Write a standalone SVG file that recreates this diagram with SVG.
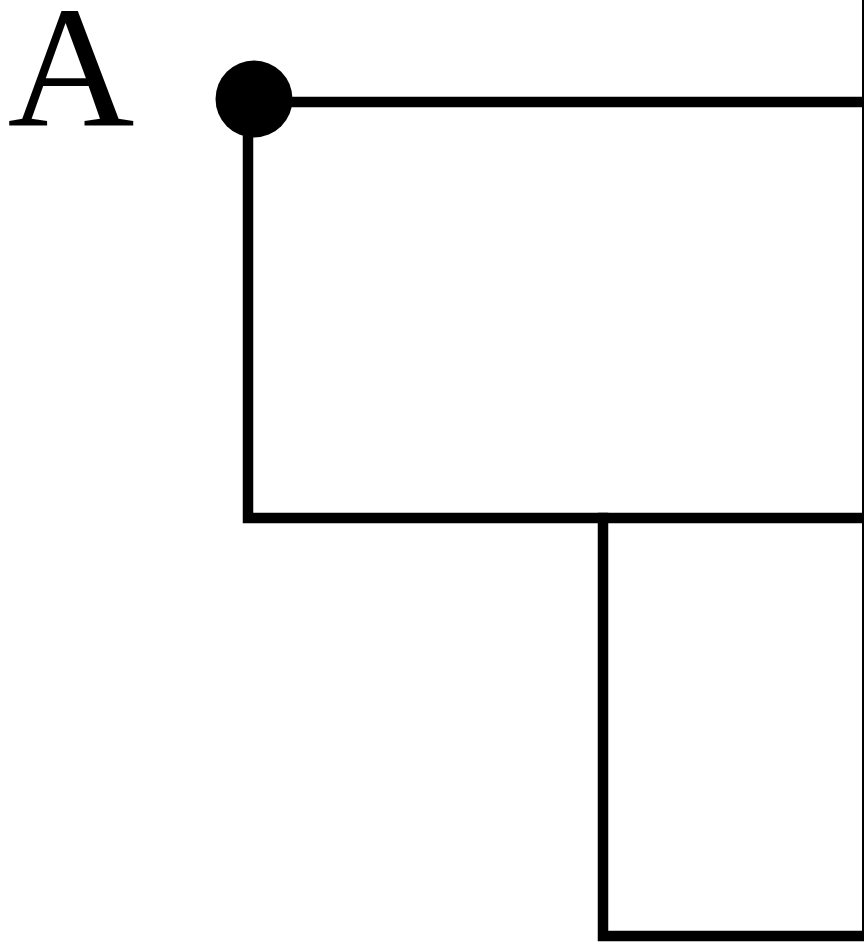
<svg xmlns="http://www.w3.org/2000/svg" width="864" height="943" viewBox="0 0 864 943">
<style>
.wire{fill:none;stroke:#000;stroke-width:10.5;stroke-linecap:square;stroke-linejoin:miter}
.edge{fill:none;stroke:#000;stroke-width:2}
.lbl{font-family:"Liberation Serif","DejaVu Serif",serif;font-size:174px;fill:#000}
</style>
<rect width="864" height="943" fill="#fff"/>
<g id="connectors">
<path class="wire" d="M254 102 H870"/>
<path class="wire" d="M248 102 V518 H870"/>
<path class="wire" d="M603 518 V936 H870"/>
<path class="edge" d="M863 0 V936"/>
</g>
<g id="terminal-A">
<circle cx="254" cy="99" r="38.5" fill="#000"/>
<text class="lbl" x="71" y="126" text-anchor="middle" textLength="127" lengthAdjust="spacingAndGlyphs">A</text>
</g>
</svg>
